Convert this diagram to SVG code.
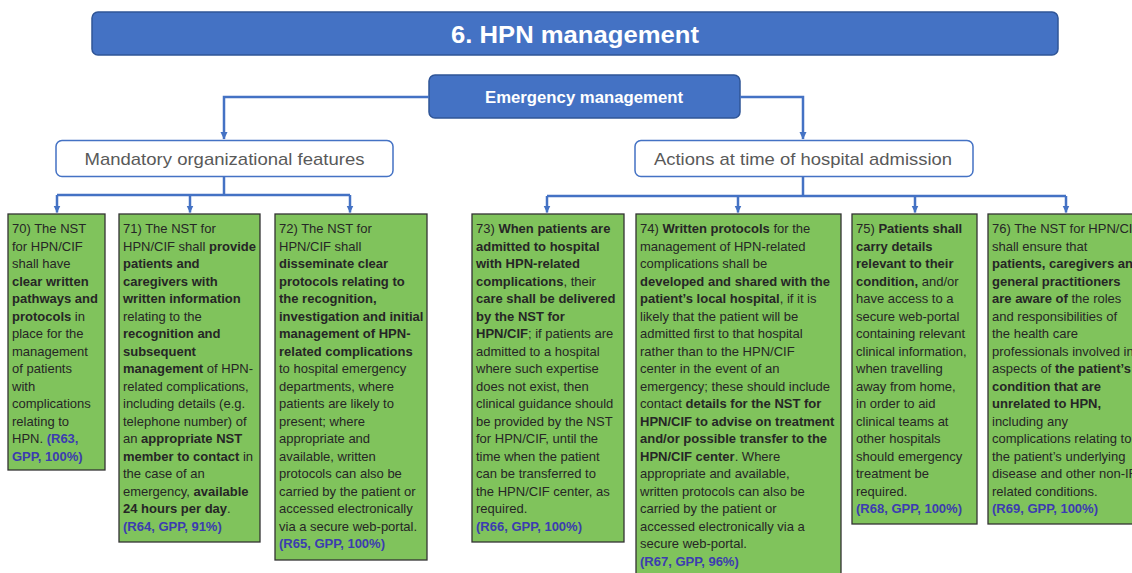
<svg xmlns="http://www.w3.org/2000/svg" width="1132" height="573" viewBox="0 0 1132 573">
<defs>
<style>
.hdr{fill:#4472c4;stroke:#2f5597;stroke-width:1.5}
.sub{fill:#ffffff;stroke:#4472c4;stroke-width:1.5}
.box{fill:#80c35c;stroke:#333333;stroke-width:1.3}
.ht{font-family:"Liberation Sans",Arial,sans-serif;font-weight:bold;fill:#ffffff;text-anchor:middle}
.st{font-family:"Liberation Sans",Arial,sans-serif;fill:#595959;text-anchor:middle;font-size:17px}
.t{font-family:"Liberation Sans",Arial,sans-serif;font-size:13px;fill:#262626}
.b{font-weight:bold}
.c{font-weight:bold;fill:#3c3cb0}
.con{fill:none;stroke:#4472c4;stroke-width:2.5}
</style>
<marker id="ah" markerWidth="8" markerHeight="8" refX="7" refY="4" orient="auto" markerUnits="userSpaceOnUse">
<path d="M0,0.5 L7.5,4 L0,7.5 Z" fill="#4472c4"/>
</marker>
</defs>

<g id="title">
<rect class="hdr" x="92" y="12" width="966" height="43" rx="6"/>
<text class="ht" x="575" y="43" font-size="24" textLength="248" lengthAdjust="spacingAndGlyphs">6. HPN management</text>
</g>

<g id="emergency">
<rect class="hdr" x="429" y="75" width="311" height="43" rx="6"/>
<text class="ht" x="584" y="103" font-size="16.5" textLength="198" lengthAdjust="spacingAndGlyphs">Emergency management</text>
</g>

<g id="mandatory">
<rect class="sub" x="56" y="140.5" width="337" height="36" rx="6"/>
<text class="st" x="224.5" y="165" textLength="280" lengthAdjust="spacingAndGlyphs">Mandatory organizational features</text>
</g>

<g id="actions">
<rect class="sub" x="635" y="140.5" width="338" height="36" rx="6"/>
<text class="st" x="803" y="165" textLength="298" lengthAdjust="spacingAndGlyphs">Actions at time of hospital admission</text>
</g>

<g id="connectors">
<path class="con" d="M429,97 H224 V139" marker-end="url(#ah)"/>
<path class="con" d="M740,97 H803 V139" marker-end="url(#ah)"/>
<path class="con" d="M224,177 V195" stroke-width="3"/>
<path class="con" d="M57,195 H350"/>
<path class="con" d="M57,195 V212.5" marker-end="url(#ah)"/>
<path class="con" d="M190,195 V212.5" marker-end="url(#ah)"/>
<path class="con" d="M350,195 V212.5" marker-end="url(#ah)"/>
<path class="con" d="M803,177 V196" stroke-width="3"/>
<path class="con" d="M547,196 H1066"/>
<path class="con" d="M547,196 V212.5" marker-end="url(#ah)"/>
<path class="con" d="M738,196 V212.5" marker-end="url(#ah)"/>
<path class="con" d="M915,196 V212.5" marker-end="url(#ah)"/>
<path class="con" d="M1066,196 V212.5" marker-end="url(#ah)"/>
</g>

<g id="r70">
<rect class="box" x="8" y="214" width="97" height="256"/>
<text class="t">
<tspan x="12" y="233">70) The NST</tspan>
<tspan x="12" y="250.5">for HPN/CIF</tspan>
<tspan x="12" y="268">shall have</tspan>
<tspan x="12" y="285.5" class="b">clear written</tspan>
<tspan x="12" y="303" class="b">pathways and</tspan>
<tspan x="12" y="320.5"><tspan class="b">protocols</tspan> in</tspan>
<tspan x="12" y="338">place for the</tspan>
<tspan x="12" y="355.5">management</tspan>
<tspan x="12" y="373">of patients</tspan>
<tspan x="12" y="390.5">with</tspan>
<tspan x="12" y="408">complications</tspan>
<tspan x="12" y="425.5">relating to</tspan>
<tspan x="12" y="443">HPN. <tspan class="c">(R63,</tspan></tspan>
<tspan x="12" y="460.5" class="c">GPP, 100%)</tspan>
</text>
</g>

<g id="r71">
<rect class="box" x="119" y="214" width="141" height="328"/>
<text class="t">
<tspan x="123" y="233">71) The NST for</tspan>
<tspan x="123" y="250.5">HPN/CIF shall <tspan class="b">provide</tspan></tspan>
<tspan x="123" y="268" class="b">patients and</tspan>
<tspan x="123" y="285.5" class="b">caregivers with</tspan>
<tspan x="123" y="303" class="b">written information</tspan>
<tspan x="123" y="320.5">relating to the</tspan>
<tspan x="123" y="338" class="b">recognition and</tspan>
<tspan x="123" y="355.5" class="b">subsequent</tspan>
<tspan x="123" y="373"><tspan class="b">management</tspan> of HPN-</tspan>
<tspan x="123" y="390.5">related complications,</tspan>
<tspan x="123" y="408">including details (e.g.</tspan>
<tspan x="123" y="425.5">telephone number) of</tspan>
<tspan x="123" y="443">an <tspan class="b">appropriate NST</tspan></tspan>
<tspan x="123" y="460.5"><tspan class="b">member to contact</tspan> in</tspan>
<tspan x="123" y="478">the case of an</tspan>
<tspan x="123" y="495.5">emergency, <tspan class="b">available</tspan></tspan>
<tspan x="123" y="513"><tspan class="b">24 hours per day</tspan>.</tspan>
<tspan x="123" y="530.5" class="c">(R64, GPP, 91%)</tspan>
</text>
</g>

<g id="r72">
<rect class="box" x="275" y="214" width="152" height="346"/>
<text class="t">
<tspan x="279" y="233">72) The NST for</tspan>
<tspan x="279" y="250.5">HPN/CIF shall</tspan>
<tspan x="279" y="268" class="b">disseminate clear</tspan>
<tspan x="279" y="285.5" class="b">protocols relating to</tspan>
<tspan x="279" y="303" class="b">the recognition,</tspan>
<tspan x="279" y="320.5" class="b">investigation and initial</tspan>
<tspan x="279" y="338" class="b">management of HPN-</tspan>
<tspan x="279" y="355.5" class="b">related complications</tspan>
<tspan x="279" y="373">to hospital emergency</tspan>
<tspan x="279" y="390.5">departments, where</tspan>
<tspan x="279" y="408">patients are likely to</tspan>
<tspan x="279" y="425.5">present; where</tspan>
<tspan x="279" y="443">appropriate and</tspan>
<tspan x="279" y="460.5">available, written</tspan>
<tspan x="279" y="478">protocols can also be</tspan>
<tspan x="279" y="495.5">carried by the patient or</tspan>
<tspan x="279" y="513">accessed electronically</tspan>
<tspan x="279" y="530.5">via a secure web-portal.</tspan>
<tspan x="279" y="548" class="c">(R65, GPP, 100%)</tspan>
</text>
</g>

<g id="r73">
<rect class="box" x="472" y="214" width="152" height="328"/>
<text class="t">
<tspan x="476" y="233">73) <tspan class="b">When patients are</tspan></tspan>
<tspan x="476" y="250.5" class="b">admitted to hospital</tspan>
<tspan x="476" y="268" class="b">with HPN-related</tspan>
<tspan x="476" y="285.5"><tspan class="b">complications</tspan>, their</tspan>
<tspan x="476" y="303" class="b">care shall be delivered</tspan>
<tspan x="476" y="320.5" class="b">by the NST for</tspan>
<tspan x="476" y="338"><tspan class="b">HPN/CIF</tspan>; if patients are</tspan>
<tspan x="476" y="355.5">admitted to a hospital</tspan>
<tspan x="476" y="373">where such expertise</tspan>
<tspan x="476" y="390.5">does not exist, then</tspan>
<tspan x="476" y="408">clinical guidance should</tspan>
<tspan x="476" y="425.5">be provided by the NST</tspan>
<tspan x="476" y="443">for HPN/CIF, until the</tspan>
<tspan x="476" y="460.5">time when the patient</tspan>
<tspan x="476" y="478">can be transferred to</tspan>
<tspan x="476" y="495.5">the HPN/CIF center, as</tspan>
<tspan x="476" y="513">required.</tspan>
<tspan x="476" y="530.5" class="c">(R66, GPP, 100%)</tspan>
</text>
</g>

<g id="r74">
<rect class="box" x="636" y="214" width="205" height="365"/>
<text class="t">
<tspan x="640" y="233">74) <tspan class="b">Written protocols</tspan> for the</tspan>
<tspan x="640" y="250.5">management of HPN-related</tspan>
<tspan x="640" y="268">complications shall be</tspan>
<tspan x="640" y="285.5" class="b">developed and shared with the</tspan>
<tspan x="640" y="303"><tspan class="b">patient’s local hospital</tspan>, if it is</tspan>
<tspan x="640" y="320.5">likely that the patient will be</tspan>
<tspan x="640" y="338">admitted first to that hospital</tspan>
<tspan x="640" y="355.5">rather than to the HPN/CIF</tspan>
<tspan x="640" y="373">center in the event of an</tspan>
<tspan x="640" y="390.5">emergency; these should include</tspan>
<tspan x="640" y="408">contact <tspan class="b">details for the NST for</tspan></tspan>
<tspan x="640" y="425.5" class="b">HPN/CIF to advise on treatment</tspan>
<tspan x="640" y="443" class="b">and/or possible transfer to the</tspan>
<tspan x="640" y="460.5"><tspan class="b">HPN/CIF center</tspan>. Where</tspan>
<tspan x="640" y="478">appropriate and available,</tspan>
<tspan x="640" y="495.5">written protocols can also be</tspan>
<tspan x="640" y="513">carried by the patient or</tspan>
<tspan x="640" y="530.5">accessed electronically via a</tspan>
<tspan x="640" y="548">secure web-portal.</tspan>
<tspan x="640" y="565.5" class="c">(R67, GPP, 96%)</tspan>
</text>
</g>

<g id="r75">
<rect class="box" x="852" y="214" width="125" height="310"/>
<text class="t">
<tspan x="856" y="233">75) <tspan class="b">Patients shall</tspan></tspan>
<tspan x="856" y="250.5" class="b">carry details</tspan>
<tspan x="856" y="268" class="b">relevant to their</tspan>
<tspan x="856" y="285.5"><tspan class="b">condition,</tspan> and/or</tspan>
<tspan x="856" y="303">have access to a</tspan>
<tspan x="856" y="320.5">secure web-portal</tspan>
<tspan x="856" y="338">containing relevant</tspan>
<tspan x="856" y="355.5">clinical information,</tspan>
<tspan x="856" y="373">when travelling</tspan>
<tspan x="856" y="390.5">away from home,</tspan>
<tspan x="856" y="408">in order to aid</tspan>
<tspan x="856" y="425.5">clinical teams at</tspan>
<tspan x="856" y="443">other hospitals</tspan>
<tspan x="856" y="460.5">should emergency</tspan>
<tspan x="856" y="478">treatment be</tspan>
<tspan x="856" y="495.5">required.</tspan>
<tspan x="856" y="513" class="c">(R68, GPP, 100%)</tspan>
</text>
</g>

<g id="r76">
<rect class="box" x="988" y="214" width="158" height="310"/>
<text class="t">
<tspan x="992" y="233">76) The NST for HPN/CIF</tspan>
<tspan x="992" y="250.5">shall ensure that</tspan>
<tspan x="992" y="268" class="b">patients, caregivers and</tspan>
<tspan x="992" y="285.5" class="b">general practitioners</tspan>
<tspan x="992" y="303"><tspan class="b">are aware of</tspan> the roles</tspan>
<tspan x="992" y="320.5">and responsibilities of</tspan>
<tspan x="992" y="338">the health care</tspan>
<tspan x="992" y="355.5">professionals involved in</tspan>
<tspan x="992" y="373">aspects of <tspan class="b">the patient’s</tspan></tspan>
<tspan x="992" y="390.5" class="b">condition that are</tspan>
<tspan x="992" y="408" class="b">unrelated to HPN,</tspan>
<tspan x="992" y="425.5">including any</tspan>
<tspan x="992" y="443">complications relating to</tspan>
<tspan x="992" y="460.5">the patient’s underlying</tspan>
<tspan x="992" y="478">disease and other non-IF</tspan>
<tspan x="992" y="495.5">related conditions.</tspan>
<tspan x="992" y="513" class="c">(R69, GPP, 100%)</tspan>
</text>
</g>
</svg>
